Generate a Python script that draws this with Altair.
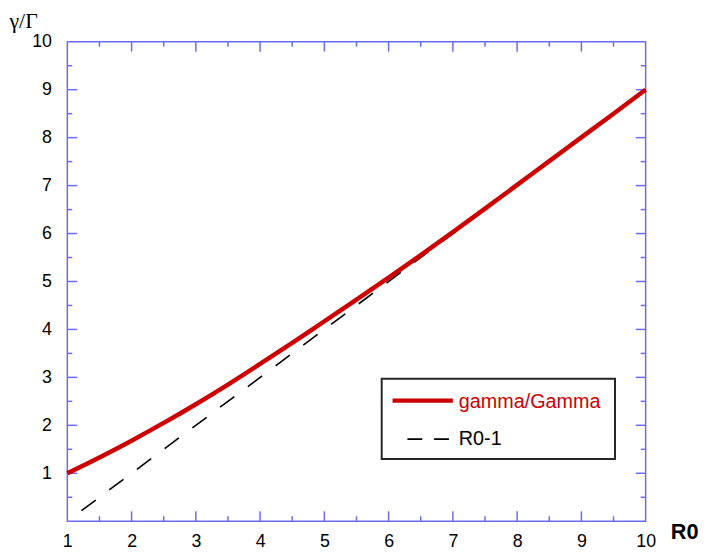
import altair as alt
import pandas as pd

# --- data ---
r0 = [1.0, 1.5, 2.0, 2.5, 3.0, 3.5, 4.0, 4.5, 5.0, 5.5, 6.0, 6.5, 7.0, 7.5, 8.0, 8.5, 9.0, 9.5, 10.0]
ratio = [1.00, 1.33, 1.68, 2.05, 2.44, 2.85, 3.28, 3.72, 4.17, 4.62, 5.08, 5.55, 6.03, 6.52, 7.015, 7.51, 8.005, 8.50, 9.00]
dash_r0 = [1.22, 10.0]
dash_val = [0.22, 9.0]

x_labels = [1, 2, 3, 4, 5, 6, 7, 8, 9, 10]
y_labels = [1, 2, 3, 4, 5, 6, 7, 8, 9, 10]
x_major = [2, 3, 4, 5, 6, 7, 8, 9]
x_minor = [1.5, 2.5, 3.5, 4.5, 5.5, 6.5, 7.5, 8.5, 9.5]
y_major = [1, 2, 3, 4, 5, 6, 7, 8, 9]
y_minor = [0.5, 1.5, 2.5, 3.5, 4.5, 5.5, 6.5, 7.5, 8.5, 9.5]
legend_labels = ["gamma/Gamma", "R0-1"]

W, H = 585, 485
BLUE = "#6b6bf2"
RED = "#cc0000"
SANS = "Liberation Sans"

xs = alt.Scale(domain=[1, 10], nice=False, zero=False)
ys = alt.Scale(domain=[0, 10], nice=False, zero=False)

xaxis = alt.Axis(values=x_labels, title="R0", ticks=False, tickSize=0, domain=False, grid=False,
                 labelFontSize=18, labelFont=SANS, labelColor="black", labelPadding=12,
                 labelFlush=False, labelOverlap=False,
                 titleFont=SANS, titleFontSize=22, titleFontWeight="bold", titleColor="black",
                 titleX=610, titleY=17.7, titleAlign="left", titleBaseline="alphabetic")
yaxis = alt.Axis(values=y_labels, title="γ/Γ", ticks=False, tickSize=0, domain=False, grid=False,
                 labelFontSize=18, labelFont=SANS, labelColor="black", labelPadding=16,
                 labelFlush=False, labelOverlap=False,
                 titleFont="Liberation Serif", titleFontSize=22, titleFontWeight="normal",
                 titleColor="black", titleAngle=0, titleX=-59, titleY=-14,
                 titleAlign="left", titleBaseline="alphabetic")

X = alt.X("x:Q", scale=xs, axis=xaxis, title="R0")
Y = alt.Y("y:Q", scale=ys, axis=yaxis, title="γ/Γ")

df_curve = pd.DataFrame({"x": r0, "y": ratio})
df_dash = pd.DataFrame({"x": dash_r0, "y": dash_val})

curve = alt.Chart(df_curve).mark_line(color=RED, strokeWidth=4.5, interpolate="monotone").encode(x=X, y=Y)
dashed = alt.Chart(df_dash).mark_line(color="black", strokeWidth=1.6, strokeDash=[18, 17]).encode(x=X, y=Y)


def xticks(vals, length, top):
    d = pd.DataFrame({"x": vals})
    y0 = 0 if top else H
    y1 = length if top else H - length
    return alt.Chart(d).mark_rule(color=BLUE, strokeWidth=1.5).encode(
        x=X, y=alt.value(y0), y2=alt.value(y1))


def yticks(vals, length, right):
    d = pd.DataFrame({"y": vals})
    x0 = W if right else 0
    x1 = W - length if right else length
    return alt.Chart(d).mark_rule(color=BLUE, strokeWidth=1.5).encode(
        y=Y, x=alt.value(x0), x2=alt.value(x1))


ticks = [
    xticks(x_major, 10, False), xticks(x_minor, 5, False),
    xticks(x_major, 10, True), xticks(x_minor, 5, True),
    yticks(y_major, 10, False), yticks(y_minor, 5, False),
    yticks(y_major, 10, True), yticks(y_minor, 5, True),
]

one = pd.DataFrame({"k": [0]})
leg_box = alt.Chart(one).mark_rect(fill="white", stroke="#262626", strokeWidth=2).encode(
    x=alt.value(318), x2=alt.value(554), y=alt.value(341), y2=alt.value(422))
leg_red = alt.Chart(one).mark_rule(color=RED, strokeWidth=4.5).encode(
    x=alt.value(329), x2=alt.value(390), y=alt.value(363))
leg_dash = alt.Chart(one).mark_rule(color="black", strokeWidth=1.6, strokeDash=[15, 12]).encode(
    x=alt.value(344), x2=alt.value(386), y=alt.value(402))
leg_t1 = alt.Chart(pd.DataFrame({"t": [legend_labels[0]]})).mark_text(
    align="left", baseline="middle", font=SANS, fontSize=20, color=RED).encode(
    x=alt.value(396), y=alt.value(364), text="t:N")
leg_t2 = alt.Chart(pd.DataFrame({"t": [legend_labels[1]]})).mark_text(
    align="left", baseline="middle", font=SANS, fontSize=20, color="black").encode(
    x=alt.value(396), y=alt.value(402), text="t:N")

chart = alt.layer(*ticks, dashed, curve, leg_box, leg_red, leg_dash, leg_t1, leg_t2).properties(
    width=W, height=H,
    padding={"left": 60, "top": 31, "right": 57, "bottom": 28},
    autosize=alt.AutoSizeParams(type="none"),
).configure_view(stroke=BLUE, strokeWidth=1.5)

chart.save("out.html", embed_options={"renderer": "svg", "actions": False})
